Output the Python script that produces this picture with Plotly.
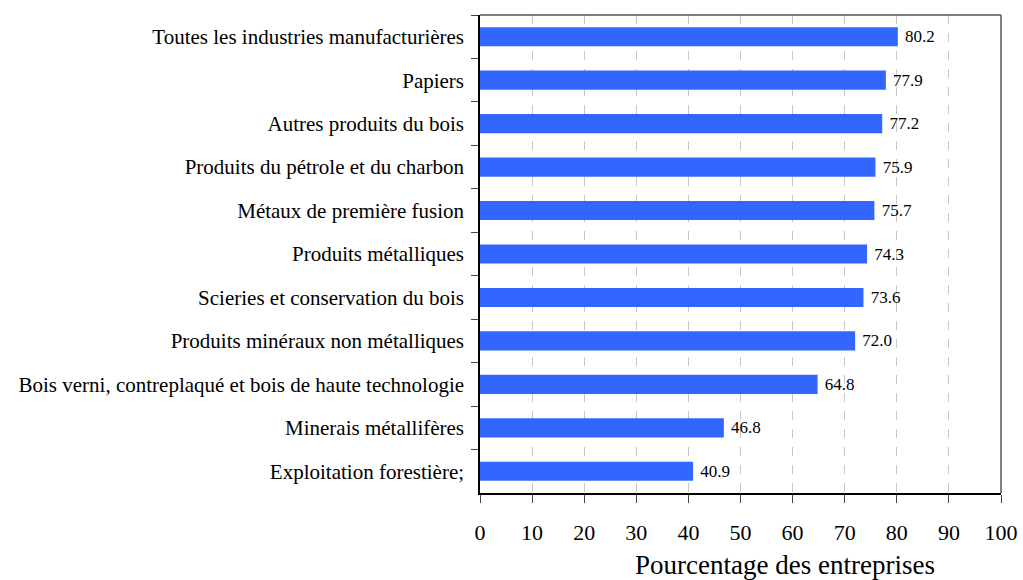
import plotly.graph_objects as go

categories = [
    "Toutes les industries manufacturières",
    "Papiers",
    "Autres produits du bois",
    "Produits du pétrole et du charbon",
    "Métaux de première fusion",
    "Produits métalliques",
    "Scieries et conservation du bois",
    "Produits minéraux non métalliques",
    "Bois verni, contreplaqué et bois de haute technologie",
    "Minerais métallifères",
    "Exploitation forestière;",
]
values = [80.2, 77.9, 77.2, 75.9, 75.7, 74.3, 73.6, 72.0, 64.8, 46.8, 40.9]
x_ticks = [0, 10, 20, 30, 40, 50, 60, 70, 80, 90, 100]
x_title = "Pourcentage des entreprises"

font_family = "Liberation Serif"

fig = go.Figure(
    go.Bar(
        x=values,
        y=categories,
        orientation="h",
        marker=dict(color="#3366FF", line=dict(width=0)),
        width=0.44,
        text=[f"{v:.1f}" for v in values],
        texttemplate=" %{text}",
        textposition="outside",
        textfont=dict(family=font_family, size=17, color="black"),
        cliponaxis=False,
        hoverinfo="skip",
    )
)

fig.update_layout(
    width=1023,
    height=580,
    margin=dict(l=480, r=22, t=15, b=87, autoexpand=False),
    paper_bgcolor="white",
    plot_bgcolor="white",
    showlegend=False,
    font=dict(family=font_family, color="black"),
)

fig.update_xaxes(
    range=[0, 100],
    automargin=False,
    tickmode="array",
    tickvals=x_ticks,
    ticktext=[str(t) for t in x_ticks],
    ticks="outside",
    ticklen=8,
    tickcolor="#444",
    tickfont=dict(family=font_family, size=22, color="black"),
    ticklabelstandoff=11,
    showgrid=True,
    gridcolor="#c8c8c8",
    griddash="dash",
    gridwidth=1,
    showline=True,
    linecolor="black",
    linewidth=1.5,
    mirror=False,
    zeroline=False,
)

fig.update_yaxes(
    automargin=False,
    categoryorder="array",
    categoryarray=categories,
    autorange="reversed",
    ticks="outside",
    tickson="boundaries",
    ticklen=7,
    tickcolor="#444",
    tickfont=dict(family=font_family, size=21, color="black"),
    ticklabelstandoff=10,
    showline=True,
    linecolor="black",
    linewidth=1.5,
    showgrid=False,
    zeroline=False,
)

# x-axis title (offset to the right as in the reference)
fig.add_annotation(
    text=x_title,
    xref="paper", yref="paper",
    x=0.585, y=0,
    xanchor="center", yanchor="middle",
    yshift=-72,
    showarrow=False,
    font=dict(family=font_family, size=27, color="black"),
)

# frame top and right
fig.add_shape(type="line", xref="paper", yref="paper", x0=0, x1=1, y0=1, y1=1,
              line=dict(color="#555", width=1.5))
fig.add_shape(type="line", xref="paper", yref="paper", x0=1, x1=1, y0=0, y1=1,
              line=dict(color="#555", width=1.5))

fig.write_html(
    "out.html",
    config={"displayModeBar": False},
    post_script="document.body.style.margin='0';document.body.style.overflow='hidden';",
)
